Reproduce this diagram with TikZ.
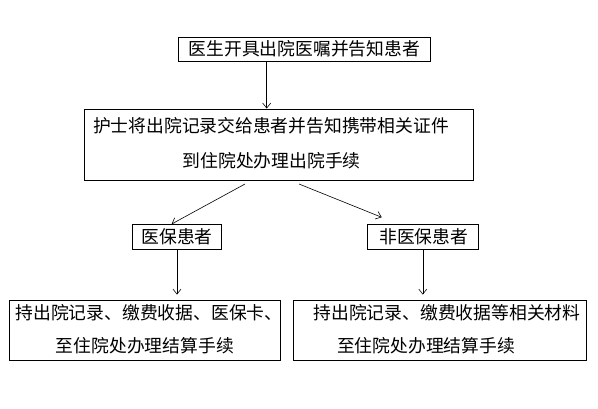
\documentclass[tikz,border=0pt]{standalone}
\usepackage{fontspec}
\setmainfont{Noto Sans CJK SC}
\usetikzlibrary{arrows.meta}
\tikzset{
  boxs/.style={draw, line width=0.9pt, inner sep=0pt},
  txt/.style={inner sep=0pt, font=\fontsize{17.8}{20}\selectfont},
  arr/.style={-{Straight Barb[length=5pt,width=8pt]}, line width=0.6pt},
}
\begin{document}
\begin{tikzpicture}[x=1pt,y=-1pt]
\useasboundingbox[fill=white] (0,0) rectangle (598,409);
% boxes
\node[boxs, minimum width=251.7pt, minimum height=24.3pt] (b1) at (304.2,49.2) {};
\node[boxs, minimum width=389pt, minimum height=71pt] (b2) at (279,144.5) {};
\node[boxs, minimum width=89.4pt, minimum height=24.7pt] (b3) at (177,236.7) {};
\node[boxs, minimum width=111pt, minimum height=25pt] (b4) at (422.8,236.5) {};
\node[boxs, minimum width=271.7pt, minimum height=60.7pt] (b5) at (144.9,330.4) {};
\node[boxs, minimum width=292.7pt, minimum height=60.7pt] (b6) at (439.7,330.4) {};
% texts
\node[txt] (t1) at (304.3,49.2) {医生开具出院医嘱并告知患者};
\node[txt] (t2a) at (271,125.3) {护士将出院记录交给患者并告知携带相关证件};
\node[txt] (t2b) at (271.7,160.7) {到住院处办理出院手续};
\node[txt] (t3) at (177,236.7) {医保患者};
\node[txt] (t4) at (423.7,236.5) {非医保患者};
\node[txt] (t5a) at (149,312.5) {持出院记录、缴费收据、医保卡、};
\node[txt] (t5b) at (145,346) {至住院处办理结算手续};
\node[txt] (t6a) at (447,312.5) {持出院记录、缴费收据等相关材料};
\node[txt] (t6b) at (426,346) {至住院处办理结算手续};
% connectors
\coordinate (p1) at (266.7,0);
\draw[arr] (b1.south -| p1) -- (b2.north -| p1);
\coordinate (l0) at (245,184);
\coordinate (l1) at (171.7,224);
\draw[arr] (l0) -- (l1);
\coordinate (r0) at (299,184);
\coordinate (r1) at (381.7,217.3);
\draw[arr] (r0) -- (r1);
\draw[arr] (b3.south) -- ([yshift=5pt]b5.north -| b3.south);
\draw[arr] (b4.south) -- ([yshift=5pt]b6.north -| b4.south);
\end{tikzpicture}
\end{document}
